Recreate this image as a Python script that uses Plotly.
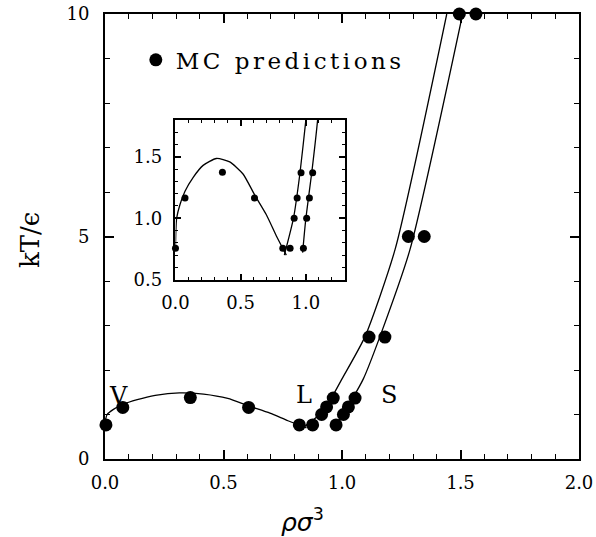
import plotly.graph_objects as go

# MC predictions (main panel)
mc_rho = [0.004, 0.075, 0.36, 0.606, 0.82, 0.876, 0.914, 0.935, 0.963,
          0.975, 1.006, 1.027, 1.055, 1.114, 1.181, 1.28, 1.347, 1.495, 1.565]
mc_T = [0.766, 1.16, 1.38, 1.16, 0.766, 0.766, 1.0, 1.17, 1.37,
        0.766, 1.0, 1.17, 1.37, 2.74, 2.74, 5.0, 5.0, 10.0, 10.0]

# MC predictions shown in the inset (low-temperature region)
inset_rho = [0.0, 0.073, 0.36, 0.606, 0.823, 0.879, 0.910, 0.933, 0.963,
             0.981, 1.006, 1.027, 1.052]
inset_T = [0.755, 1.165, 1.375, 1.165, 0.755, 0.755, 1.0, 1.165, 1.37,
           0.755, 1.0, 1.165, 1.37]

# Theory: vapour-liquid coexistence curve
vl_rho = [0.0, 0.003, 0.009, 0.034, 0.073, 0.136, 0.212, 0.314, 0.416,
          0.518, 0.607, 0.696, 0.772, 0.850]
vl_T = [0.755, 0.90, 1.0, 1.11, 1.22, 1.333, 1.43, 1.486, 1.458,
        1.36, 1.19, 1.03, 0.86, 0.70]

# Theory: freezing (liquid) and melting (solid) lines
liq_rho = [0.835, 0.905, 0.955, 1.0, 1.097, 1.224, 1.442]
liq_T = [0.70, 1.0, 1.37, 1.8, 2.75, 4.71, 10.0]
sol_rho = [0.975, 1.0, 1.045, 1.09, 1.16, 1.287, 1.509]
sol_T = [0.72, 1.0, 1.37, 1.8, 2.75, 4.71, 10.0]

x_ticks = [0.0, 0.5, 1.0, 1.5, 2.0]
x_ticklabels = ["0.0", "0.5", "1.0", "1.5", "2.0"]
y_ticks = [0, 5, 10]
y_ticklabels = ["0", "5", "10"]
ix_ticks = [0.0, 0.5, 1.0]
ix_ticklabels = ["0.0", "0.5", "1.0"]
iy_ticks = [0.5, 1.0, 1.5]
iy_ticklabels = ["0.5", "1.0", "1.5"]

phase_labels = ["V", "L", "S"]
phase_rho = [0.058, 0.84, 1.20]
phase_T = [1.42, 1.43, 1.43]

SERIF = "DejaVu Serif"
fig = go.Figure()

line_style = dict(color="black", width=1.3)
for xs, ys in [(vl_rho, vl_T), (liq_rho, liq_T), (sol_rho, sol_T)]:
    fig.add_trace(go.Scatter(x=xs, y=ys, mode="lines",
                             line=dict(line_style, shape="spline", smoothing=0.6),
                             showlegend=False, hoverinfo="skip"))
fig.add_trace(go.Scatter(x=mc_rho, y=mc_T, mode="markers",
                         name='<span style="letter-spacing:3.5px">MC predictions</span>',
                         marker=dict(color="black", size=13), cliponaxis=False, showlegend=True))

for xs, ys in [(vl_rho, vl_T), (liq_rho, liq_T), (sol_rho, sol_T)]:
    fig.add_trace(go.Scatter(x=xs, y=ys, mode="lines",
                             line=dict(line_style, shape="spline", smoothing=0.6),
                             xaxis="x2", yaxis="y2", showlegend=False, hoverinfo="skip"))
fig.add_trace(go.Scatter(x=inset_rho, y=inset_T, mode="markers", xaxis="x2", yaxis="y2",
                         marker=dict(color="black", size=7), cliponaxis=False, showlegend=False))

for lab, xx, yy in zip(phase_labels, phase_rho, phase_T):
    fig.add_annotation(x=xx, y=yy, text=lab, showarrow=False, xref="x", yref="y",
                       font=dict(family=SERIF, size=24, color="black"))

# axis titles placed as in the reference
fig.add_annotation(x=(302 - 105) / 474, y=-(520 - 459) / 445, xref="paper", yref="paper",
                   text="<i>ρσ</i><sup>3</sup>", showarrow=False, xanchor="center", yanchor="middle",
                   font=dict(size=25, family="DejaVu Sans", color="black"))
fig.add_annotation(x=-(105 - 30) / 474, y=(459 - 240) / 445, xref="paper", yref="paper",
                   text="kT/ϵ", showarrow=False, textangle=-90, xanchor="center", yanchor="middle",
                   font=dict(size=26, family=SERIF, color="black"))

axis_common = dict(showline=True, linecolor="black", linewidth=2, mirror="allticks",
                   ticks="inside", tickcolor="black", tickwidth=1.5, showgrid=False,
                   zeroline=False, automargin=False)

fig.update_layout(
    width=596, height=537,
    margin=dict(l=105, r=17, t=14, b=78, autoexpand=False),
    paper_bgcolor="white", plot_bgcolor="white",
    font=dict(family=SERIF, color="black"),
    xaxis=dict(axis_common, range=[0, 2], tickvals=x_ticks, ticktext=x_ticklabels,
               ticklen=9, tickfont=dict(size=18, family=SERIF), ticklabelstandoff=6,
               minor=dict(dtick=0.1, ticks="inside", ticklen=5, tickcolor="black", tickwidth=1.3)),
    yaxis=dict(axis_common, range=[0, 10], tickvals=y_ticks, ticktext=y_ticklabels,
               ticklen=9, tickfont=dict(size=18, family=SERIF), ticklabelstandoff=10,
               minor=dict(dtick=1, ticks="inside", ticklen=5, tickcolor="black", tickwidth=1.3)),
    xaxis2=dict(axis_common, domain=[0.1487, 0.5063], anchor="y2", range=[0, 1.3],
                tickvals=ix_ticks, ticktext=ix_ticklabels, ticklen=6, linewidth=1.5,
                tickfont=dict(size=18, family=SERIF), ticklabelstandoff=6,
                minor=dict(dtick=0.1, ticks="inside", ticklen=3, tickcolor="black", tickwidth=1)),
    yaxis2=dict(axis_common, domain=[0.403, 0.762], anchor="x2", range=[0.5, 1.8],
                tickvals=iy_ticks, ticktext=iy_ticklabels, ticklen=6, linewidth=1.5,
                tickfont=dict(size=18, family=SERIF), ticklabelstandoff=8,
                minor=dict(dtick=0.1, ticks="inside", ticklen=3, tickcolor="black", tickwidth=1)),
    legend=dict(x=0.065, y=0.897, xanchor="left", yanchor="middle", bgcolor="rgba(0,0,0,0)",
                font=dict(family=SERIF, size=23, color="black")),
)

fig.write_html("out.html")
